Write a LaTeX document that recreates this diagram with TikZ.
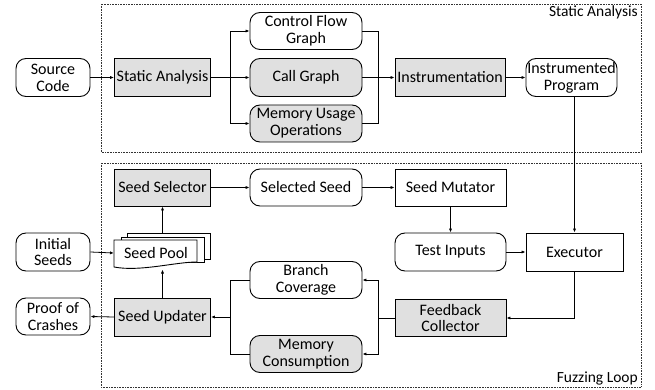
\documentclass[tikz,border=0pt]{standalone}
\usepackage{fontspec}
\setmainfont{Carlito}
\usetikzlibrary{arrows.meta}
\definecolor{boxgray}{RGB}{224,224,224}
\begin{document}
\begin{tikzpicture}[x=1pt,y=-1pt,
  base/.style={draw, line width=0.9pt, inner sep=0pt, align=center, font=\fontsize{16}{16.8}\selectfont},
  rbox/.style={base, rounded corners=10pt},
  grayfill/.style={fill=boxgray},
  arr/.style={-{Latex[length=4pt,width=3.2pt]}, line width=0.8pt},
  ln/.style={line width=0.8pt},
  dotbox/.style={densely dotted, line width=0.6pt, draw=black!80},
  lbl/.style={font=\fontsize{15.5}{16.5}\selectfont, inner sep=1pt}
]
\useasboundingbox (0,0) rectangle (655,390);
% containers
\draw[dotbox] (101,4) rectangle (641,152);
\draw[dotbox] (101,163) rectangle (641,387);
\node[lbl, anchor=north east] (lsa) at (639,5) {Static Analysis};
\node[lbl, anchor=south east] (lfl) at (639,386) {Fuzzing Loop};

% static analysis part
\node[rbox, minimum width=74pt, minimum height=38pt] (src) at (53,77.5) {Source\\Code};
\node[base, grayfill, minimum width=96pt, minimum height=38pt] (sa) at (162.5,77.5) {Static Analysis};
\node[rbox, minimum width=112pt, minimum height=37pt] (cfg) at (306,31) {Control Flow\\Graph};
\node[rbox, grayfill, minimum width=112pt, minimum height=38pt] (cg) at (306,77.5) {Call Graph};
\node[rbox, grayfill, minimum width=112pt, minimum height=37pt] (muo) at (306,123.5) {Memory Usage\\Operations};
\node[base, grayfill, minimum width=110pt, minimum height=38pt] (inst) at (450,77.5) {Instrumentation};
\node[rbox, minimum width=91pt, minimum height=38pt] (ip) at (571.5,77.5) {Instrumented\\Program};

\coordinate (f1) at (230,77.5);
\coordinate (m1) at (378,77.5);
\draw[arr] (src) -- (sa);
\draw[ln] (sa) -- (f1);
\draw[arr] (f1) |- (cfg.west);
\draw[arr] (f1) -- (cg.west);
\draw[arr] (f1) |- (muo.west);
\draw[ln] (cfg.east) -| (m1);
\draw[ln] (muo.east) -| (m1);
\draw[arr] (cg.east) -- (inst.west);
\draw[arr] (inst) -- (ip);

% fuzzing loop
\node[base, grayfill, minimum width=96pt, minimum height=37pt] (ss) at (162.5,187.5) {Seed Selector};
\node[rbox, minimum width=112pt, minimum height=37pt] (sel) at (306,187.5) {Selected Seed};
\node[base, minimum width=111pt, minimum height=37pt] (sm) at (450.5,187.5) {Seed Mutator};
\node[rbox, minimum width=111pt, minimum height=38pt] (ti) at (450.5,252) {Test Inputs};
\node[base, minimum width=97pt, minimum height=38pt] (exe) at (574.5,252) {Executor};
\node[base, grayfill, minimum width=111pt, minimum height=37pt] (fc) at (450.5,318) {Feedback\\Collector};
\node[rbox, minimum width=112pt, minimum height=37pt] (bc) at (306,280) {Branch\\Coverage};
\node[rbox, grayfill, minimum width=112pt, minimum height=37pt] (mc) at (306,354) {Memory\\Consumption};
\node[base, grayfill, minimum width=96pt, minimum height=38pt] (su) at (162.5,317) {Seed Updater};
\node[rbox, minimum width=74pt, minimum height=38pt] (is) at (53,252) {Initial\\Seeds};
\node[rbox, minimum width=74pt, minimum height=37pt] (poc) at (53,316.5) {Proof of\\Crashes};

% seed pool (multi-document)
\draw[line width=0.9pt, fill=white] (127,233) rectangle (210,259);
\draw[line width=0.9pt, fill=white] (121,237) rectangle (204,262);
\draw[line width=0.9pt, fill=white] (114,240) -- (197,240) -- (197,262)
  .. controls (175,262) and (140,272) .. (114,267) -- cycle;
\node[base, draw=none] (sp) at (156,253) {Seed Pool};
\coordinate (spt) at (162.5,233);
\coordinate (spb) at (162.5,269.5);
\coordinate (spl) at (114,253);

\coordinate (m2) at (378,318);
\coordinate (m3) at (230,317);
\draw[arr] (ss) -- (sel);
\draw[arr] (sel) -- (sm);
\draw[arr] (sm) -- (ti);
\draw[arr] (ti) -- (exe);
\draw[arr] (exe.north |- ip.south) -- (exe.north);
\draw[arr] (exe.south) |- (fc.east);
\draw[ln] (fc.west) -- (m2);
\draw[arr] (m2) |- (bc.east);
\draw[arr] (m2) |- (mc.east);
\draw[ln] (bc.west) -| (m3);
\draw[ln] (mc.west) -| (m3);
\draw[arr] (m3) -- (su.east);
\draw[arr] (su.west) -- (poc.east);
\draw[arr] (su.north) -- (spb);
\draw[arr] (spt) -- (ss.south);
\draw[arr] (is.east) -- (spl);
\end{tikzpicture}
\end{document}
